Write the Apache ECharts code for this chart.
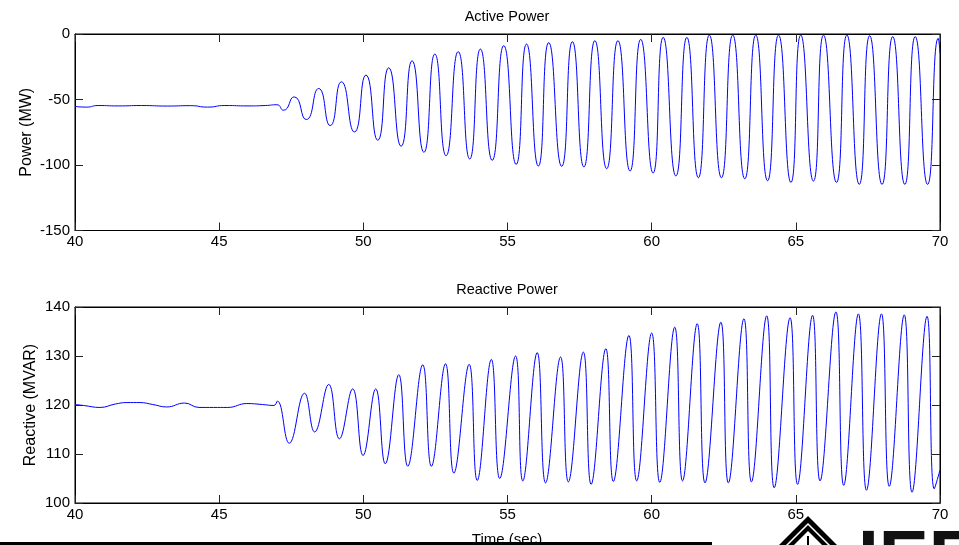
<!DOCTYPE html>
<html>
<head>
<meta charset="utf-8">
<script src="https://cdn.jsdelivr.net/npm/echarts@6/dist/echarts.min.js"></script>
<style>
html,body{margin:0;padding:0;background:#fff;}
#chart{width:959px;height:545px;}
</style>
</head>
<body>
<div id="chart"></div>
<script>
// ---- Data ----
const apTime = [40.0, 40.4, 40.8, 41.5, 42.3, 43.2, 44.0, 44.6, 45.2, 46.0, 46.6, 47.0,
  47.23, 47.60, 48.02, 48.45, 48.85, 49.24, 49.69, 50.09, 50.50, 50.88, 51.31, 51.69, 52.10,
  52.48, 52.87, 53.29, 53.69, 54.06, 54.47, 54.87, 55.30, 55.66, 56.07, 56.43, 56.88, 57.25,
  57.65, 58.03, 58.44, 58.83, 59.25, 59.62, 60.05, 60.40, 60.84, 61.22, 61.62, 62.00, 62.42,
  62.81, 63.23, 63.61, 64.02, 64.40, 64.83, 65.17, 65.61, 65.96, 66.41, 66.77, 67.20, 67.56,
  67.99, 68.36, 68.78, 69.14, 69.57, 69.94, 70.0];
const apValue = [-55.3, -55.8, -54.6, -54.9, -54.6, -55.0, -54.7, -55.8, -54.6, -54.9, -54.6, -54.0,
  -58.2, -48.0, -65.3, -41.6, -69.9, -36.5, -74.8, -31.4, -81.1, -25.8, -85.7, -20.4, -90.3,
  -15.3, -92.9, -13.5, -95.4, -11.5, -96.4, -8.9, -99.5, -7.7, -100.8, -6.6, -101.0, -5.9,
  -101.5, -5.1, -102.8, -5.1, -104.6, -4.1, -106.1, -2.6, -108.4, -2.6, -109.7, -0.8, -109.7,
  -0.8, -110.5, -0.8, -112.0, -0.8, -113.3, -0.8, -112.3, -0.8, -113.3, -0.8, -114.8, -1.3,
  -114.8, -2.0, -114.8, -2.0, -114.8, -3.3, -14.5];

const rpTime = [40.0, 40.3, 40.87, 41.4, 41.8, 42.25, 42.7, 43.18, 43.8, 44.3, 44.8, 45.3, 45.96, 46.5, 46.9, 47.02,
  47.43, 47.96, 48.31, 48.80, 49.17, 49.63, 49.99, 50.43, 50.76, 51.23, 51.54, 52.06, 52.36,
  52.85, 53.14, 53.67, 53.95, 54.44, 54.73, 55.28, 55.53, 56.03, 56.32, 56.84, 57.11, 57.63,
  57.90, 58.41, 58.67, 59.21, 59.48, 60.00, 60.28, 60.80, 61.07, 61.58, 61.85, 62.40, 62.66,
  63.20, 63.46, 63.99, 64.25, 64.80, 65.06, 65.58, 65.84, 66.39, 66.66, 67.17, 67.45, 67.97,
  68.24, 68.76, 69.03, 69.55, 69.80, 70.00];
const rpValue = [120.1, 119.9, 119.5, 120.2, 120.5, 120.5, 120.1, 119.6, 120.4, 119.5, 119.5, 119.5, 120.3, 120.1, 119.9, 120.8,
  112.2, 122.4, 114.5, 124.2, 113.1, 123.3, 109.7, 123.3, 108.0, 126.2, 107.5, 128.2, 107.5,
  128.4, 106.1, 128.3, 104.6, 129.3, 105.0, 130.0, 104.5, 130.7, 104.1, 129.8, 104.3, 130.8,
  103.8, 131.5, 104.4, 134.2, 104.5, 134.7, 104.2, 135.9, 104.5, 136.6, 104.1, 136.9, 104.1,
  137.6, 104.3, 138.2, 103.1, 137.8, 103.8, 138.3, 104.5, 139.0, 103.6, 138.6, 102.6, 138.6,
  103.4, 138.4, 102.2, 138.1, 102.9, 106.7];

const timeTicks = {min: 40, max: 70, interval: 5};
const apTicks = {min: -150, max: 0, interval: 50};
const rpTicks = {min: 100, max: 140, interval: 10};

const titles = ['Active Power', 'Reactive Power'];
const yNames = ['Power (MW)', 'Reactive (MVAR)'];
const xName = 'Time (sec)';
const logoText = 'IEEE';

// ---- Chart ----
const FONT = 'Arial, "Liberation Sans", sans-serif';
const chart = echarts.init(document.getElementById('chart'), null, {renderer: 'canvas'});

function xAx(grid, pos, labels) {
  return {
    gridIndex: grid, type: 'value', position: pos,
    min: timeTicks.min, max: timeTicks.max, interval: timeTicks.interval,
    axisLine: {show: true, onZero: false, lineStyle: {color: '#000', width: 1}},
    axisTick: {show: true, inside: true, length: 8, lineStyle: {color: '#222', width: 1}},
    axisLabel: {show: labels, fontSize: 15, color: '#000', fontFamily: FONT, margin: 4},
    splitLine: {show: false}
  };
}
function yAx(grid, pos, t, labels, name, gap) {
  return {
    gridIndex: grid, type: 'value', position: pos,
    min: t.min, max: t.max, interval: t.interval,
    name: labels ? name : '', nameLocation: 'middle', nameGap: gap, nameRotate: 90,
    nameMoveOverlap: false,
    nameTextStyle: {fontSize: 16, color: '#000', fontFamily: FONT},
    axisLine: {show: true, onZero: false, lineStyle: {color: '#000', width: 1}},
    axisTick: {show: true, inside: true, length: 8, lineStyle: {color: '#222', width: 1}},
    axisLabel: {show: labels, fontSize: 15, color: '#000', fontFamily: FONT, margin: 5},
    splitLine: {show: false}
  };
}

const option = {
  animation: false,
  backgroundColor: '#fff',
  grid: [
    {left: 75, top: 34, width: 865, height: 196.5, show: true, borderColor: '#000', borderWidth: 1, containLabel: false},
    {left: 75, top: 307, width: 865, height: 196, show: true, borderColor: '#000', borderWidth: 1, containLabel: false}
  ],
  xAxis: [xAx(0, 'bottom', true), xAx(0, 'top', false), xAx(1, 'bottom', true), xAx(1, 'top', false)],
  yAxis: [
    yAx(0, 'left', apTicks, true, yNames[0], 40),
    yAx(0, 'right', apTicks, false, '', 0),
    yAx(1, 'left', rpTicks, true, yNames[1], 36),
    yAx(1, 'right', rpTicks, false, '', 0)
  ],
  series: [
    {
      type: 'line', xAxisIndex: 0, yAxisIndex: 0,
      data: apTime.map((t, i) => [t, apValue[i]]),
      showSymbol: false, smooth: 0.6,
      lineStyle: {color: '#0000ff', width: 1}, clip: true
    },
    {
      type: 'line', xAxisIndex: 2, yAxisIndex: 2,
      data: rpTime.map((t, i) => [t, rpValue[i]]),
      showSymbol: false, smooth: 0.45,
      lineStyle: {color: '#0000ff', width: 1}, clip: true
    }
  ],
  graphic: [
    {type: 'text', x: 507, y: 17, style: {text: titles[0], fill: '#000', font: '14.5px ' + FONT, textAlign: 'center', textVerticalAlign: 'middle'}},
    {type: 'text', x: 507, y: 290, style: {text: titles[1], fill: '#000', font: '14.5px ' + FONT, textAlign: 'center', textVerticalAlign: 'middle'}},
    {type: 'text', x: 507, y: 532, style: {text: xName, fill: '#000', font: '15px ' + FONT, textAlign: 'center', textVerticalAlign: 'top'}, z: 10},
    {type: 'rect', shape: {x: 0, y: 542, width: 712, height: 6}, style: {fill: '#000'}, z: 20},
    {type: 'polygon', shape: {points: [[808, 516], [762, 562], [854, 562]]}, style: {fill: '#000'}, z: 20},
    {type: 'polygon', shape: {points: [[808, 524], [770, 562], [846, 562]]}, style: {fill: 'none', stroke: '#fff', lineWidth: 1.5}, z: 21},
    {type: 'polygon', shape: {points: [[808, 531], [777, 562], [839, 562]]}, style: {fill: '#fff'}, z: 21},
    {type: 'line', shape: {x1: 808, y1: 536, x2: 808, y2: 550}, style: {stroke: '#000', lineWidth: 2}, z: 22},
    {type: 'text', x: 858, y: 524, style: {text: logoText, fill: '#111', font: 'bold 75px ' + FONT, textAlign: 'left', textVerticalAlign: 'top'}, z: 20}
  ]
};
chart.setOption(option);
</script>
</body>
</html>
